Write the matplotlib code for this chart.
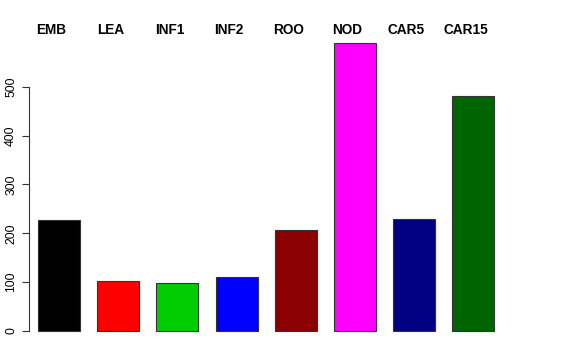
import matplotlib
matplotlib.use("Agg")
import matplotlib.pyplot as plt

categories = ["EMB", "LEA", "INF1", "INF2", "ROO", "NOD", "CAR5", "CAR15"]
values = [228, 102, 98, 110, 207, 589, 230, 481]
colors = ["#000000", "#FF0000", "#00CD00", "#0000FF", "#8B0000", "#FF00FF", "#000080", "#006400"]
yticks = [0, 100, 200, 300, 400, 500]

plt.rcParams['font.family'] = ['Liberation Sans', 'DejaVu Sans']

W, H = 576, 360
fig = plt.figure(figsize=(W / 100, H / 100), dpi=100)
# pixel geometry
ax_l, ax_r, ax_b, ax_t = 29, 560, 345, 20
ax = fig.add_axes([ax_l / W, (H - ax_b) / H, (ax_r - ax_l) / W, (ax_b - ax_t) / H])

pitch = 59.2
c0 = 59.0
scale = 0.4885  # px per unit
zero_px = 331
ax.set_xlim((ax_l - c0) / pitch, (ax_r - c0) / pitch)
ax.set_ylim((zero_px - ax_b) / scale, (zero_px - ax_t) / scale)

x = list(range(len(categories)))
ax.bar(x, values, width=0.71, color=colors, edgecolor="#333333", linewidth=0.8)

for xi, lab in zip(x, categories):
    ax.text(xi - 0.13, (zero_px - 29.5) / scale, lab, ha="center", va="center",
            fontsize=9.8, fontweight="bold")

for s in ["top", "right", "bottom"]:
    ax.spines[s].set_visible(False)
ax.spines["left"].set_bounds(0, 500)
ax.spines["left"].set_color("#333333")
ax.set_xticks([])
ax.set_yticks(yticks)
ax.set_yticklabels([str(v) for v in yticks], rotation=90, va="center", fontsize=8.8)
ax.tick_params(axis="y", length=5, width=0.8, color="#333333", pad=3.5)

fig.savefig("out.png", dpi=100)
